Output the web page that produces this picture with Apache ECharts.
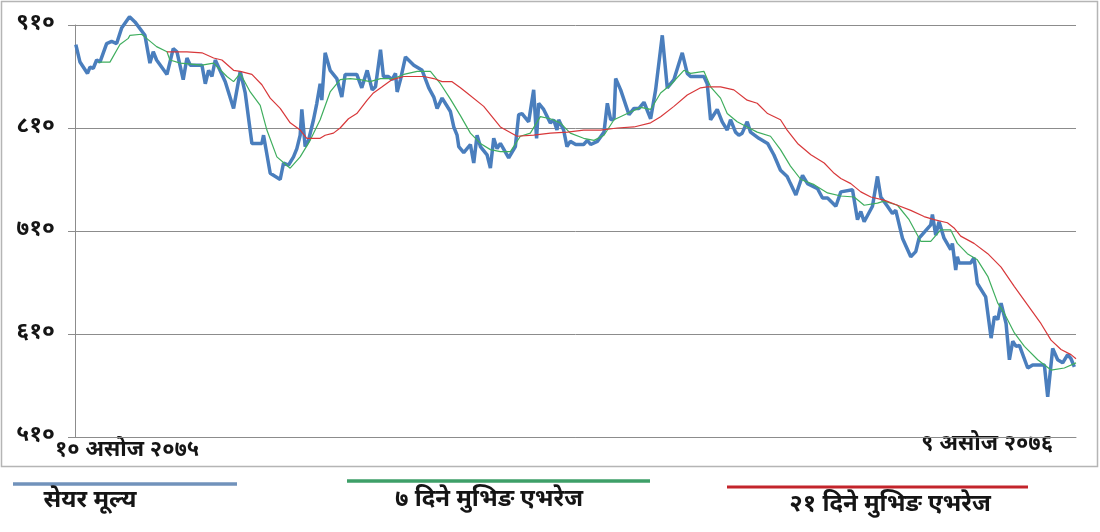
<!DOCTYPE html>
<html>
<head>
<meta charset="utf-8">
<title>सेयर मूल्य</title>
<script src="https://cdn.jsdelivr.net/npm/echarts@6/dist/echarts.min.js"></script>
<style>
html,body{margin:0;padding:0;background:#fff;}
#chart{width:1100px;height:532px;}
</style>
</head>
<body>
<div id="chart"></div>
<script>
var seriesNames = ['सेयर मूल्य', '७ दिने मुभिङ एभरेज', '२१ दिने मुभिङ एभरेज'];
var yTicks = [510, 610, 710, 810, 910];
var yTickLabels = ['५१०', '६१०', '७१०', '८१०', '९१०'];
var xEndLabels = ['१० असोज २०७५', '९ असोज २०७६'];

// [कारोबार दिन, मूल्य]
var price = [[0.2,891],[1.2,874],[3.0,863],[3.6,869],[4.4,868],[5.2,876],[6.0,874],[7.6,892],[8.8,894],[10.0,892],[11.2,907],[13.1,918],[14.4,913],[16.8,900],[18.0,873],[18.8,884],[19.6,876],[22.1,862],[23.6,887],[24.5,884],[26.0,857],[26.9,878],[27.7,871],[30.5,871],[31.3,853],[32.1,866],[32.9,860],[33.7,876],[36.1,855],[38.1,829],[39.7,865],[40.9,844],[42.5,795],[44.9,795],[45.3,803],[46.9,766],[49.3,760],[50.1,776],[51.3,774],[52.5,782],[53.3,790],[54.1,803],[54.5,828],[55.3,792],[56.1,798],[57.3,818],[58.1,834],[58.9,853],[59.3,837],[60.1,883],[61.3,866],[62.9,858],[64.1,840],[64.9,862],[67.7,862],[68.9,849],[70.2,866],[71.4,847],[72.2,850],[73.4,886],[74.1,860],[75.3,860],[76.2,857],[77.0,863],[77.4,845],[78.2,857],[79.4,879],[81.4,871],[83.4,866],[85.0,849],[86.2,840],[87.0,829],[88.2,839],[90.2,826],[91.0,811],[91.8,803],[92.2,792],[93.4,786],[95.0,794],[95.8,776],[96.6,803],[97.4,792],[99.0,784],[99.8,771],[100.6,800],[101.4,790],[102.2,795],[104.2,781],[105.8,792],[106.6,823],[107.4,824],[109.0,816],[110.2,847],[110.9,800],[111.4,834],[112.6,828],[114.2,815],[115.0,818],[115.8,808],[116.2,818],[117.4,808],[118.2,792],[119.0,797],[120.3,794],[122.2,794],[123.1,798],[123.9,794],[125.5,797],[127.1,806],[127.9,834],[128.7,818],[129.5,819],[129.9,858],[131.1,847],[133.1,823],[134.3,829],[135.5,829],[136.7,835],[138.3,819],[139.5,847],[141.1,900],[142.3,849],[143.9,857],[145.9,883],[147.1,863],[147.9,860],[151.1,860],[151.9,853],[152.7,818],[154.3,828],[155.5,816],[156.7,808],[157.5,818],[158.7,806],[159.5,803],[160.3,805],[161.5,816],[162.3,806],[164.3,800],[166.4,795],[167.9,784],[169.5,769],[171.1,763],[171.9,756],[173.2,745],[174.8,764],[176.0,756],[178.4,751],[179.6,742],[180.8,742],[182.8,734],[184.0,748],[186.8,750],[188.0,721],[188.8,729],[189.6,719],[191.6,734],[192.8,763],[193.6,743],[195.2,734],[196.4,727],[197.2,730],[198.8,703],[200.8,685],[202.0,690],[202.8,703],[205.6,716],[206.0,726],[206.8,706],[207.6,719],[208.8,703],[210.4,692],[210.8,698],[211.6,672],[212.0,685],[212.4,679],[215.2,679],[216.0,684],[216.8,659],[218.8,646],[220.1,606],[220.9,627],[221.7,624],[222.5,640],[223.7,620],[224.5,585],[225.3,603],[226.1,598],[226.9,599],[228.9,577],[230.1,580],[232.9,580],[233.7,549],[234.9,596],[236.1,585],[237.3,582],[238.5,590],[239.3,586],[240.1,578]];

var ma7 = [[5.6,874],[8.4,874],[10.8,891],[12.8,897],[13.2,900],[16.0,901],[17.2,897],[19.6,889],[22.1,884],[22.8,876],[25.3,873],[30.5,871],[33.3,873],[36.5,860],[38.1,855],[39.7,863],[42.1,845],[44.5,832],[46.1,808],[48.5,782],[51.7,771],[54.1,782],[56.5,798],[58.9,818],[61.3,845],[63.7,857],[66.1,858],[68.5,857],[70.9,855],[73.4,858],[76.6,858],[79.0,862],[82.2,865],[85.4,865],[87.8,853],[90.2,838],[92.6,822],[95.0,805],[97.4,795],[99.8,789],[102.2,787],[104.6,787],[107.0,802],[109.4,805],[111.8,821],[114.2,819],[116.6,815],[119.0,805],[122.2,800],[124.7,798],[127.1,803],[129.5,818],[132.7,824],[135.9,830],[138.3,828],[140.7,844],[143.1,852],[146.3,866],[147.9,863],[151.1,865],[152.7,850],[155.1,839],[156.7,824],[159.1,816],[161.5,811],[163.9,806],[167.1,802],[169.5,789],[171.9,773],[174.4,760],[177.6,755],[180.8,747],[184.0,744],[187.2,743],[189.6,735],[192.8,737],[194.4,739],[197.6,735],[200.4,721],[203.2,700],[205.6,700],[208.0,711],[210.4,711],[212.0,698],[214.4,688],[216.8,682],[219.3,666],[221.7,640],[223.3,630],[225.7,611],[228.1,598],[231.3,585],[234.5,575],[237.7,577],[240.5,582]];

var ma21 = [[22.1,884],[26.9,884],[30.5,883],[33.3,878],[35.3,876],[38.1,866],[39.7,865],[42.5,862],[44.9,852],[46.9,839],[49.3,829],[51.7,815],[54.1,808],[55.7,800],[58.9,800],[60.1,803],[62.1,805],[63.7,810],[65.7,819],[67.7,824],[70.2,837],[71.7,844],[73.8,850],[76.2,857],[79.0,860],[83.8,860],[86.2,858],[88.2,855],[90.6,855],[92.6,849],[94.2,844],[98.2,831],[102.2,811],[106.2,802],[110.2,803],[114.2,805],[118.3,806],[122.2,808],[126.3,808],[130.3,810],[134.3,811],[138.3,815],[140.7,821],[143.9,831],[147.1,842],[150.3,849],[151.9,850],[155.1,850],[158.3,847],[161.5,837],[163.9,834],[166.4,824],[169.5,818],[171.1,808],[173.6,795],[176.8,784],[180.0,776],[182.4,766],[184.0,761],[186.4,756],[188.8,748],[191.2,743],[194.4,740],[197.6,735],[200.8,730],[204.0,724],[206.4,721],[209.6,718],[211.2,713],[212.8,705],[216.0,698],[219.3,688],[222.5,675],[225.7,656],[228.9,638],[232.1,620],[234.5,604],[236.9,595],[239.3,590],[240.5,586]];

var devFont = '"Noto Sans Devanagari", "Noto Sans", sans-serif';
var gridGray = '#8c8c8c';

var myChart = echarts.init(document.getElementById('chart'));
var option = {
    animation: false,
    backgroundColor: '#fff',
    grid: { left: 75, right: 24, top: 25, bottom: 95 },
    xAxis: {
        type: 'value',
        min: 0,
        max: 240.5,
        axisLine: { show: true, lineStyle: { color: gridGray } },
        axisTick: { show: false },
        axisLabel: { show: false },
        splitLine: { show: false }
    },
    yAxis: {
        type: 'value',
        min: 510,
        max: 910,
        interval: 100,
        axisLine: { show: true, lineStyle: { color: gridGray } },
        axisTick: { show: true, length: 7, lineStyle: { color: gridGray } },
        axisLabel: {
            margin: 20,
            fontSize: 23,
            fontWeight: 'bold',
            color: '#151515',
            fontFamily: devFont,
            formatter: function (v) {
                var i = yTicks.indexOf(Math.round(v));
                return i >= 0 ? yTickLabels[i] : '';
            }
        },
        splitLine: { show: true, lineStyle: { color: gridGray, width: 1 } }
    },
    series: [
        {
            name: seriesNames[0],
            type: 'line',
            data: price,
            symbol: 'none',
            clip: false,
            lineStyle: { color: '#4a7ebd', width: 3.5 },
            z: 2
        },
        {
            name: seriesNames[1],
            type: 'line',
            data: ma7,
            symbol: 'none',
            clip: false,
            lineStyle: { color: '#3fae5e', width: 1.2 },
            z: 3
        },
        {
            name: seriesNames[2],
            type: 'line',
            data: ma21,
            symbol: 'none',
            clip: false,
            lineStyle: { color: '#d8383a', width: 1.2 },
            z: 4
        }
    ],
    graphic: [
        // चार्टको बाहिरी किनारा
        { type: 'rect', shape: { x: 1.5, y: 1.5, width: 1096, height: 465 }, style: { fill: 'none', stroke: '#b5b5b5', lineWidth: 1.5 }, silent: true },
        // x अक्षका छेउका मितिहरू
        { type: 'text', x: 55, y: 452, style: { text: xEndLabels[0], font: 'bold 22px ' + devFont, fill: '#151515', verticalAlign: 'middle', align: 'left' } },
        { type: 'text', x: 1053, y: 446, style: { text: xEndLabels[1], font: 'bold 22px ' + devFont, fill: '#151515', verticalAlign: 'middle', align: 'right' } },
        // तलको लेजेन्ड
        { type: 'line', shape: { x1: 13, y1: 484, x2: 237, y2: 484 }, style: { stroke: '#7192bb', lineWidth: 3.5 } },
        { type: 'line', shape: { x1: 347, y1: 481, x2: 650, y2: 481 }, style: { stroke: '#3e9f68', lineWidth: 3.5 } },
        { type: 'line', shape: { x1: 727, y1: 487, x2: 1028, y2: 487 }, style: { stroke: '#c3242b', lineWidth: 3 } },
        { type: 'text', x: 90, y: 503, style: { text: seriesNames[0], font: 'bold 24px ' + devFont, fill: '#151515', verticalAlign: 'middle', align: 'center' } },
        { type: 'text', x: 489, y: 502, style: { text: seriesNames[1], font: 'bold 24px ' + devFont, fill: '#151515', verticalAlign: 'middle', align: 'center' } },
        { type: 'text', x: 890, y: 507, style: { text: seriesNames[2], font: 'bold 24px ' + devFont, fill: '#151515', verticalAlign: 'middle', align: 'center' } }
    ]
};
myChart.setOption(option);
</script>
</body>
</html>
